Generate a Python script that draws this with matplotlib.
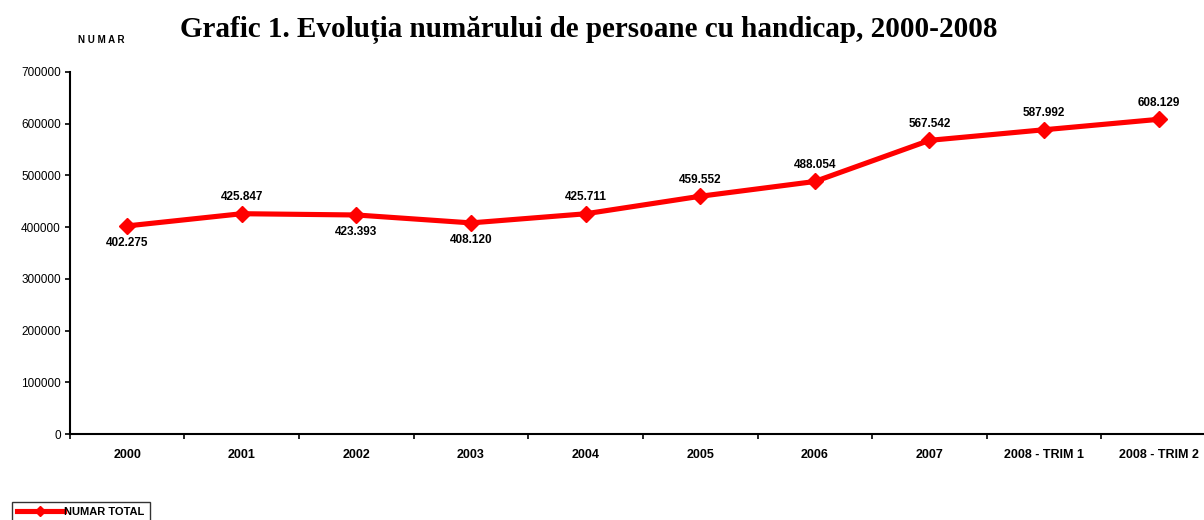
import matplotlib
matplotlib.use("Agg")
from matplotlib import pyplot as plt
from matplotlib.ticker import FixedLocator, NullFormatter

categories = ["2000", "2001", "2002", "2003", "2004", "2005", "2006", "2007",
              "2008 - TRIM 1", "2008 - TRIM 2"]
numar_total = [402275, 425847, 423393, 408120, 425711, 459552, 488054, 567542,
               587992, 608129]
labels = ["402.275", "425.847", "423.393", "408.120", "425.711", "459.552",
          "488.054", "567.542", "587.992", "608.129"]
# label above (1) or below (-1) the point
label_side = [-1, 1, -1, -1, 1, 1, 1, 1, 1, 1]

plt.rcParams['font.family'] = ['Liberation Sans', 'DejaVu Sans']

fig = plt.figure(figsize=(12.04, 5.2), dpi=100)
# the category axis runs a bit past the right edge of the picture
ax = fig.add_axes([0.058, 0.165, 0.952, 0.697])

x = list(range(len(categories)))
line, = ax.plot(x, numar_total, color="red", linewidth=3.7, marker="D",
                markersize=8, label="NUMAR TOTAL", zorder=3)

for xi, yi, lab, side in zip(x, numar_total, labels, label_side):
    ax.annotate(lab, (xi, yi), xytext=(0, 12 * side), textcoords="offset points",
                ha="center", va="center", fontsize=8.5, fontweight="bold")

ax.set_xlim(-0.5, len(categories) - 0.5)
ax.set_ylim(0, 700000)
ax.set_yticks(range(0, 700001, 100000))
ax.set_yticklabels([str(v) for v in range(0, 700001, 100000)], fontsize=8.5)

ax.set_xticks(x)
ax.set_xticklabels(categories, fontsize=9, fontweight="bold")
ax.tick_params(axis="x", which="major", length=0, pad=11)
ax.xaxis.set_minor_locator(FixedLocator([i + 0.5 for i in range(-1, len(categories))]))
ax.xaxis.set_minor_formatter(NullFormatter())
ax.tick_params(axis="x", which="minor", length=3.5, width=1.2, direction="out")
ax.tick_params(axis="y", length=3.5, width=1.2, direction="out", pad=3)

for side in ["top", "right"]:
    ax.spines[side].set_visible(False)
for side in ["left", "bottom"]:
    ax.spines[side].set_linewidth(1.5)

fig.text(0.489, 0.942, "Grafic 1. Evoluția numărului de persoane cu handicap, 2000-2008",
         ha="center", va="center", fontsize=21, fontweight="bold",
         family=["Liberation Serif", "DejaVu Serif"])
fig.text(0.084, 0.923, "N U M A R", ha="center", va="center", fontsize=7,
         fontweight="bold")

leg = fig.legend(handles=[line], loc="upper left", bbox_to_anchor=(0.005, 0.046),
                 fontsize=8, frameon=True, fancybox=False, edgecolor="black",
                 handlelength=4.2, borderpad=0.5, handletextpad=0.05,
                 markerscale=0.7)
leg.get_frame().set_linewidth(1)
for t in leg.get_texts():
    t.set_fontweight("bold")

fig.savefig("out.png", dpi=100)
